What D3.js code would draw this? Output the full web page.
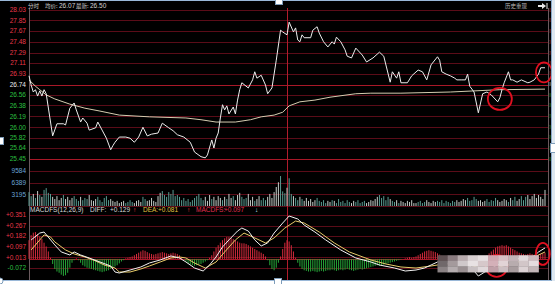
<!DOCTYPE html>
<html lang="zh">
<head>
<meta charset="UTF-8">
<title>分时 MACD</title>
<style>
  html, body { margin: 0; padding: 0; background: #fff; overflow: hidden; }
  svg { display: block; }
  .lbl { font-family: 'Liberation Sans', Arial, sans-serif; font-size: 6.5px; }
  .cjk { font-family: 'Noto Sans CJK SC', sans-serif; }
</style>
</head>
<body>
<svg id="chart" width="555" height="284"></svg>
<script src="https://d3js.org/d3.v7.min.js"></script>
<script>
// intraday price, traced vertices [minute 0..240, price]
const pricePts = [[0,26.89],[1,26.73],[2,26.61],[3,26.65],[4,26.54],[5,26.63],[6,26.54],[7,26.65],[8,26.58],[11,25.85],
  [13,26.06],[16,26.06],[17,26.04],[19,26.33],[21,26.42],[22,26.30],[24,26.09],[25,26.16],[27,26.07],[28,25.95],
  [31,25.99],[32,26.09],[34,25.95],[36,25.81],[38,25.61],[39,25.68],[40,25.74],[42,25.83],[45,25.83],[47,25.81],
  [49,25.74],[51,25.83],[53,26.00],[55,25.85],[57,25.88],[60,25.90],[62,26.07],[65,25.99],[67,25.94],[69,25.87],
  [72,25.83],[75,25.74],[77,25.57],[80,25.49],[82,25.47],[83,25.52],[85,25.78],[86,25.64],[87,25.81],[88,25.90],
  [89,26.16],[90,26.39],[91,26.30],[92,26.37],[93,26.23],[95,26.35],[96,26.23],[97,26.47],[98,26.65],[99,26.77],
  [102,26.68],[104,26.82],[105,26.96],[106,26.85],[108,26.90],[110,26.73],[111,26.58],[113,26.68],[115,27.16],[117,27.68],
  [118,27.65],[120,27.60],[121,27.82],[123,27.65],[124,27.72],[125,27.51],[126,27.48],[127,27.60],[128,27.55],[131,27.55],
  [132,27.68],[134,27.74],[135,27.63],[137,27.48],[139,27.39],[141,27.48],[142,27.44],[143,27.56],[145,27.48],[147,27.34],
  [148,27.23],[150,27.20],[152,27.37],[155,27.25],[157,27.13],[160,27.20],[163,27.30],[165,27.23],[168,26.78],[169,26.96],
  [171,26.85],[172,26.96],[173,26.77],[176,26.77],[178,26.89],[181,26.99],[183,26.96],[185,26.82],[187,27.08],[190,27.22],
  [191,27.16],[192,26.96],[194,26.92],[196,26.89],[198,26.85],[199,26.82],[201,26.82],[203,26.82],[204,26.92],[205,26.71],
  [207,26.61],[209,26.25],[211,26.58],[213,26.61],[215,26.56],[218,26.44],[219,26.51],[220,26.65],[221,26.77],[223,26.96],
  [224,26.82],[225,26.82],[227,26.78],[229,26.82],[232,26.77],[233,26.78],[235,26.82],[237,26.92],[238,27.03],[240,27.03]];

// average price line
const avgPts = [[0,26.82],[3,26.71],[5,26.65],[8,26.56],[12,26.49],[19,26.40],[26,26.33],[33,26.28],[42,26.21],[56,26.18],
  [73,26.16],[80,26.13],[87,26.09],[96,26.09],[103,26.13],[108,26.18],[114,26.21],[118,26.26],[121,26.37],[126,26.44],
  [133,26.47],[140,26.52],[152,26.58],[159,26.59],[173,26.59],[196,26.61],[219,26.65],[240,26.66]];

// volume per minute
const volume = [
  3800,2700,3300,2200,4100,3000,2500,4400,4900,3600,
  3300,2500,1900,2700,1600,2200,3000,1900,2500,1600,
  2200,2700,1900,1400,2500,1600,2200,1900,3000,1600,
  1400,1900,2500,1600,1100,2200,2700,1600,1900,1400,
  1100,1400,800,1100,1400,800,1100,1600,1100,800,
  1400,1600,1100,2500,1900,1400,1600,2200,1400,1100,
  2700,3600,4100,3000,2500,3800,3300,4400,2700,3000,
  2500,1600,2200,1400,1900,1100,1600,2200,2700,3300,
  2200,1600,2500,1400,3000,1900,2500,1600,2700,2200,
  1600,2500,1900,3300,2200,2700,1600,3000,3600,2500,
  1900,2200,3300,1600,2500,1400,1900,2700,1600,2200,
  1600,2500,3300,2200,3800,5200,6500,8200,4000,3500,
  5000,7600,3300,2700,2200,1600,2500,1900,1400,2200,
  1400,1900,1100,1600,2200,1400,1100,1600,800,1400,
  1100,1600,1400,800,1900,1100,1400,800,1600,1100,
  800,1400,1100,1600,800,1100,1400,800,1100,1600,
  1400,1900,2500,3000,2200,2700,1600,2500,1900,1400,
  1100,1600,800,1400,1100,800,1400,1100,1600,800,
  800,1100,1400,800,1100,1600,1100,800,1400,1100,
  1400,1100,1600,800,1400,1100,800,1400,1100,1600,
  1100,1400,1900,1600,2200,1400,1600,2500,1900,1400,
  1600,1100,1400,1900,1100,1600,1400,2200,1600,1100,
  1400,1900,1600,1100,2200,1600,2500,1400,1900,2700,
  1600,2500,3000,1900,2700,3300,2200,3000,2500,1900,4400];

// MACD histogram per minute
const macdHist = [
  0.150,0.190,0.210,0.215,0.200,0.180,0.160,0.130,0.100,0.060,
  0.010,-0.040,-0.080,-0.100,-0.110,-0.125,-0.135,-0.130,-0.110,-0.070,
  -0.030,-0.010,0.005,-0.010,-0.030,-0.050,-0.060,-0.070,-0.075,-0.080,
  -0.085,-0.090,-0.095,-0.100,-0.105,-0.100,-0.095,-0.090,-0.080,-0.070,
  -0.060,-0.050,-0.035,-0.020,-0.010,0.005,0.010,0.015,0.020,0.030,
  0.040,0.050,0.060,0.070,0.065,0.055,0.045,0.040,0.035,0.040,
  0.045,0.050,0.055,0.050,0.045,0.040,0.045,0.050,0.045,0.040,
  0.030,0.015,0.000,-0.020,-0.035,-0.045,-0.050,-0.055,-0.050,-0.045,
  -0.040,-0.030,-0.020,-0.010,0.010,0.030,0.060,0.090,0.110,0.130,
  0.150,0.165,0.175,0.175,0.170,0.160,0.150,0.140,0.130,0.125,
  0.125,0.120,0.110,0.100,0.090,0.080,0.070,0.060,0.050,0.040,
  0.020,-0.010,-0.050,-0.080,-0.090,-0.070,-0.030,0.020,0.080,0.130,
  0.150,0.140,0.110,0.060,0.010,-0.030,-0.060,-0.080,-0.090,-0.095,
  -0.100,-0.100,-0.095,-0.100,-0.105,-0.100,-0.095,-0.100,-0.095,-0.090,
  -0.090,-0.085,-0.090,-0.095,-0.090,-0.085,-0.090,-0.085,-0.080,-0.085,
  -0.090,-0.095,-0.090,-0.085,-0.080,-0.085,-0.080,-0.075,-0.070,-0.065,
  -0.060,-0.055,-0.050,-0.055,-0.050,-0.045,-0.040,-0.035,-0.030,-0.025,
  -0.020,-0.015,-0.010,-0.005,0.000,0.005,0.010,0.015,0.010,0.015,
  0.020,0.030,0.040,0.050,0.060,0.065,0.070,0.065,0.060,0.055,
  0.045,0.035,0.025,0.020,0.015,0.010,0.010,0.015,0.010,0.005,
  0.005,0.010,0.005,0.000,-0.005,0.000,0.005,0.010,0.005,0.000,
  0.005,0.010,0.020,0.030,0.045,0.060,0.075,0.090,0.100,0.105,
  0.110,0.105,0.110,0.100,0.090,0.080,0.070,0.060,0.050,0.045,
  0.040,0.035,0.040,0.045,0.040,0.035,0.030,0.035,0.040,0.045,0.050];

// DIFF and DEA lines, traced vertices
const diffPts = [[1,0.152],[5,0.207],[7,0.215],[12,0.112],[15,0.056],[19,0.032],[21,0.056],[24,0.032],[28,0.008],[33,-0.024],
  [38,-0.056],[40,-0.104],[42,-0.112],[47,-0.088],[52,-0.064],[56,-0.032],[61,-0.008],[66,0.024],[70,0.008],[73,-0.024],
  [77,-0.072],[81,-0.096],[84,-0.048],[87,0.016],[90,0.096],[93,0.152],[97,0.223],[99,0.247],[102,0.223],[105,0.152],
  [108,0.104],[111,0.128],[114,0.207],[118,0.287],[121,0.343],[125,0.319],[128,0.271],[133,0.215],[138,0.152],[145,0.072],
  [152,0.008],[159,-0.024],[163,-0.048],[170,-0.072],[175,-0.096],[180,-0.088],[184,-0.072],[187,-0.048],[190,-0.024],[193,-0.032],
  [200,-0.040],[205,-0.056],[209,-0.136],[212,-0.104],[217,-0.056],[221,-0.024],[226,0.000],[231,0.008],[235,0.024],[237,0.056],[240,0.088]];
const deaPts = [[1,0.072],[5,0.152],[7,0.192],[10,0.176],[12,0.136],[17,0.072],[21,0.040],[26,0.016],[31,-0.016],[35,-0.048],
  [40,-0.072],[42,-0.104],[47,-0.104],[52,-0.080],[56,-0.056],[61,-0.024],[66,0.008],[70,0.016],[73,0.008],[77,-0.032],
  [82,-0.072],[87,-0.024],[91,0.056],[96,0.152],[100,0.207],[105,0.168],[110,0.128],[114,0.168],[119,0.247],[124,0.303],
  [128,0.287],[135,0.215],[142,0.128],[149,0.056],[159,-0.008],[166,-0.040],[173,-0.064],[180,-0.072],[187,-0.056],[193,-0.040],
  [203,-0.040],[210,-0.072],[217,-0.072],[224,-0.040],[231,-0.008],[237,0.032],[240,0.056]];

// axis labels
const prevClose = 26.74;
const priceTicks = ["28.03","27.85","27.67","27.48","27.29","27.11","26.93","26.74","26.56","26.38","26.19","26.00","25.82","25.64","25.45"];
const pctTicks = ["4.82%","4.13%","3.45%","2.76%","2.07%","1.38%","0.69%","0.00%","0.69%","1.38%","2.07%","2.76%","3.45%","4.13%","4.82%"];
const volTicks = [9584, 6389, 3195];
const macdTicks = ["+0.351","+0.267","+0.182","+0.097","+0.013","-0.072"];

const svg = d3.select("#chart");

const x = d3.scaleLinear().domain([0, 240]).range([29, 545]);
const yP = d3.scaleLinear().domain([25.45, 28.03]).range([159, 10]);
const yV = d3.scaleLinear().domain([0, 9584]).range([206, 171]);
const yM = d3.scaleLinear().domain([-0.072, 0.351]).range([268, 215]);

// background
svg.append("rect").attr("width", 555).attr("height", 284).attr("fill", "#ffffff");
svg.append("rect").attr("width", 551).attr("height", 281).attr("fill", "#000000");

// grid
const gridY = priceTicks.map(t => yP(+t))
  .concat(volTicks.map(v => yV(v)), [yV(0)], macdTicks.map(t => yM(+t)));
svg.append("g").selectAll("line").data(gridY).join("line")
  .attr("x1", 29).attr("x2", 548)
  .attr("y1", d => Math.round(d) + 0.5).attr("y2", d => Math.round(d) + 0.5)
  .attr("stroke", "#5a0c18").attr("stroke-width", 1);

// brighter lines: previous close, price bottom, macd zero
[yP(prevClose), yP(25.45), yM(0)].forEach(y0 => {
  svg.append("line").attr("x1", 29).attr("x2", 548)
    .attr("y1", Math.round(y0) + 0.5).attr("y2", Math.round(y0) + 0.5)
    .attr("stroke", "#a81828").attr("stroke-width", 1);
});

// vertical frame and midday divider
svg.append("line").attr("x1", 29.5).attr("x2", 29.5).attr("y1", 8).attr("y2", 280)
  .attr("stroke", "#6a5a5e");
svg.append("line").attr("x1", 548.5).attr("x2", 548.5).attr("y1", 8).attr("y2", 280)
  .attr("stroke", "#6a5a5e");
svg.append("line").attr("x1", Math.round(x(120)) + 0.5).attr("x2", Math.round(x(120)) + 0.5)
  .attr("y1", 8).attr("y2", 280).attr("stroke", "#b01c2c");

// volume bars coloured by price direction
const seg = d3.bisector(d => d[0]).right;
function rising(i) {
  let k = Math.max(1, Math.min(pricePts.length - 1, seg(pricePts, i)));
  return pricePts[k][1] >= pricePts[k - 1][1];
}
svg.append("g").selectAll("line").data(volume).join("line")
  .attr("x1", (d, i) => x(i)).attr("x2", (d, i) => x(i))
  .attr("y1", yV(0)).attr("y2", d => yV(d))
  .attr("stroke", (d, i) => rising(i) ? "#c4ccc8" : "#5a9c92")
  .attr("stroke-width", 1);

// MACD histogram
svg.append("g").selectAll("line").data(macdHist).join("line")
  .attr("x1", (d, i) => x(i)).attr("x2", (d, i) => x(i))
  .attr("y1", yM(0)).attr("y2", d => yM(d))
  .attr("stroke", d => d >= 0 ? "#d42a3c" : "#26a838")
  .attr("stroke-width", 1);

// lines
const line = (yS) => d3.line().x(d => x(d[0])).y(d => yS(d[1]));
svg.append("path").datum(avgPts).attr("d", line(yP))
  .attr("fill", "none").attr("stroke", "#d4ccb0").attr("stroke-width", 1);
svg.append("path").datum(pricePts).attr("d", line(yP))
  .attr("fill", "none").attr("stroke", "#ececec").attr("stroke-width", 1);
svg.append("path").datum(deaPts).attr("d", line(yM))
  .attr("fill", "none").attr("stroke", "#e8cc6a").attr("stroke-width", 1);
svg.append("path").datum(diffPts).attr("d", line(yM))
  .attr("fill", "none").attr("stroke", "#f2f2f2").attr("stroke-width", 1);

// left labels
svg.append("g").selectAll("text").data(priceTicks).join("text")
  .attr("class", "lbl").attr("x", 26).attr("y", d => yP(+d)).attr("dy", "0.35em")
  .attr("text-anchor", "end")
  .attr("fill", d => +d > prevClose ? "#e8384a" : (+d === prevClose ? "#ececec" : "#2cc040"))
  .text(d => d);
svg.append("g").selectAll("text").data(volTicks).join("text")
  .attr("class", "lbl").attr("x", 26).attr("y", d => yV(d)).attr("dy", "0.35em")
  .attr("text-anchor", "end").attr("fill", "#6aa4d8")
  .text(d => d);
svg.append("g").selectAll("text").data(macdTicks).join("text")
  .attr("class", "lbl").attr("x", 26).attr("y", d => yM(+d)).attr("dy", "0.35em")
  .attr("text-anchor", "end")
  .attr("fill", d => +d >= 0 ? "#e8384a" : "#2cc040")
  .text(d => d);

// right percent labels, squeezed into the narrow strip left of the window edge
svg.append("g").selectAll("text").data(pctTicks).join("text")
  .attr("class", "lbl")
  .attr("transform", (d, i) => `translate(548.8,${yP(+priceTicks[i])}) scale(0.16,1)`)
  .attr("dy", "0.35em")
  .style("font-size", "5px")
  .attr("fill", (d, i) => i < 7 ? "#c8303e" : (i === 7 ? "#d8d8d8" : "#2aa83a"))
  .text(d => d);

// header
const head = svg.append("text").attr("y", 7.5).attr("fill", "#d0d0d0");
head.append("tspan").attr("class", "cjk").attr("x", 28).style("font-size", "5.5px").text("分时");
head.append("tspan").attr("class", "cjk").attr("x", 45).style("font-size", "5.5px").text("均价:");
head.append("tspan").attr("class", "lbl").attr("x", 59).style("font-size", "6.5px").text("26.07");
head.append("tspan").attr("class", "cjk").attr("x", 76).style("font-size", "5.5px").text("最新:");
head.append("tspan").attr("class", "lbl").attr("x", 90).style("font-size", "6.5px").text("26.50");
svg.append("text").attr("class", "cjk").attr("x", 505).attr("y", 7.5)
  .style("font-size", "5.5px").attr("fill", "#b8b8b8").text("历史重现");
svg.append("path").attr("d", "M538,5h4v-2l4,3l-4,3v-2h-4z").attr("fill", "#e8e8e8");
svg.append("rect").attr("x", 546.5).attr("y", 3).attr("width", 1).attr("height", 6).attr("fill", "#e8e8e8");

// MACD title row
const mt = svg.append("text").attr("class", "lbl").attr("y", 212);
[["MACDFS(12,26,9)", 30, "#d8d8d8"], ["DIFF:", 90, "#d8d8d8"], ["+0.129", 110, "#d8d8d8"], ["\u2191", 133, "#ff3040"],
 ["DEA:", 143, "#e0c040"], ["+0.081", 158, "#e0c040"], ["\u2191", 187, "#ff3040"],
 ["MACDFS:", 196, "#e03050"], ["+0.097", 224, "#e03050"], ["\u2193", 255, "#c8e0f0"]]
  .forEach(([t, xx, c]) => mt.append("tspan").attr("x", xx).attr("fill", c).text(t));

// annotation circles (red)
const ring = (cx, cy, rx, ry) => svg.append("ellipse").attr("cx", cx).attr("cy", cy)
  .attr("rx", rx).attr("ry", ry).attr("fill", "none").attr("stroke", "#e01020").attr("stroke-width", 1.8);
ring(x(239.5), yP(26.95), 8, 10);
ring(x(219), yP(26.49), 12, 11);
ring(x(239), yM(0.040), 7, 11);
ring(x(217.5), yM(-0.055), 11, 11);

// mosaic blur patch
const mosaic = [
  ["#5e5052","#8a7c80","#b8acae","#d8d0d2","#e6dfe0","#cfa8b0","#d8c0c4","#c4b4b8","#e0d8da","#cab8bc"],
  ["#70686a","#a49a9c","#cfc8ca","#e8e2e3","#d6c8ca","#d4b0b8","#e2d4d6","#b8acae","#d2c6c8","#e4dcde"],
  ["#8a8284","#b4acae","#9a9092","#c8c0c2","#e0d8da","#c0a0a8","#cdbfc2","#a89c9e","#dcd2d4","#c2b6b8"]];
const mx0 = x(190), mx1 = x(237), my0 = yM(0.030), my1 = yM(-0.105);
const tw = (mx1 - mx0) / 10, th = (my1 - my0) / 3;
mosaic.forEach((row, r) => row.forEach((c, k) => {
  svg.append("rect").attr("x", mx0 + k * tw).attr("y", my0 + r * th)
    .attr("width", tw + 0.3).attr("height", th + 0.3).attr("fill", c);
}));

// screenshot frame and handles
svg.append("line").attr("x1", 0).attr("x2", 555).attr("y1", 0.5).attr("y2", 0.5).attr("stroke", "#9ab8d8");
svg.append("line").attr("x1", 0).attr("x2", 555).attr("y1", 280.5).attr("y2", 280.5).attr("stroke", "#9ab8d8");
svg.append("rect").attr("x", 551).attr("y", 0).attr("width", 4).attr("height", 281).attr("fill", "#dde7f0");
svg.append("line").attr("x1", 551.5).attr("x2", 551.5).attr("y1", 0).attr("y2", 281).attr("stroke", "#8aa8c8");
[[275, -1, 7, 5], [274, 278, 7, 6], [-2, 137, 5, 7], [550, 143, 5, 9]].forEach(([hx, hy, hw, hh]) => {
  svg.append("rect").attr("x", hx + 0.5).attr("y", hy + 0.5).attr("width", hw).attr("height", hh)
    .attr("fill", "#ffffff").attr("stroke", "#7f9db9");
});
svg.append("circle").attr("cx", 0).attr("cy", 281).attr("r", 3).attr("fill", "#ffffff").attr("stroke", "#7f9db9");
</script>
</body>
</html>
